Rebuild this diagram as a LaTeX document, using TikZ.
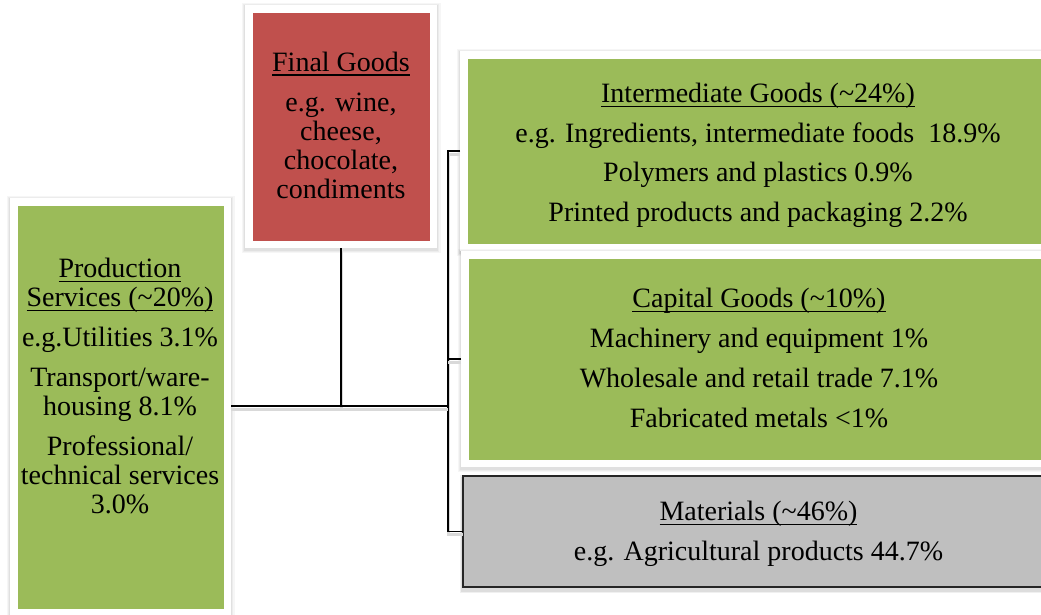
\documentclass[tikz,border=0pt]{standalone}
\usepackage{fontspec}
\setmainfont{Liberation Serif}
\newcommand{\myul}[1]{\setbox0\hbox{#1}\rlap{\rule[-4.5pt]{\wd0}{1.2pt}}\box0}
\definecolor{boxgreen}{HTML}{9BBB59}
\definecolor{boxred}{HTML}{C0504D}
\definecolor{boxgray}{HTML}{BFBFBF}
\tikzset{
  glow/.style={
    preaction={draw=black, draw opacity=0.035, line width=7pt, transform canvas={yshift=-1.5pt}},
    preaction={draw=black, draw opacity=0.04, line width=4.5pt, transform canvas={yshift=-1.5pt}},
    preaction={draw=black, draw opacity=0.05, line width=2.5pt, transform canvas={yshift=-1.5pt}}},
  framed/.style={rectangle, draw=none, fill=white, inner sep=0pt, outer sep=0pt, glow,
    path picture={\fill[#1] ([xshift=7.5pt,yshift=-7.5pt]path picture bounding box.north west)
      rectangle ([xshift=-7.5pt,yshift=7.5pt]path picture bounding box.south east);}},
  plainbox/.style={rectangle, draw=black!85, line width=2pt, fill=boxgray, inner sep=0pt, outer sep=0pt,
    preaction={draw=black, draw opacity=0.06, line width=7pt, transform canvas={yshift=-2.5pt}},
    preaction={draw=black, draw opacity=0.08, line width=4pt, transform canvas={yshift=-2.5pt}}},
  txt/.style={align=center, font=\fontsize{28pt}{29pt}\selectfont, inner sep=0pt},
  conn/.style={draw=black, line width=1.5pt,
    preaction={draw=black!15, line width=3pt, transform canvas={yshift=-3pt}}},
  mainconn/.style={conn, line width=2.6pt}
}
\begin{document}
\begin{tikzpicture}[x=1pt, y=-1pt]
\useasboundingbox (0,0) rectangle (1041,614);
\clip (0,0) rectangle (1041,614);

% boxes
\node[framed=boxred, minimum width=192pt, minimum height=243pt] (fg) at (341,126.5) {};
\node[framed=boxgreen, minimum width=221pt, minimum height=418pt] (ps) at (120.5,407) {};
\node[framed=boxgreen, minimum width=596pt, minimum height=200pt] (ig) at (758,151) {};
\node[framed=boxgreen, minimum width=595pt, minimum height=216pt] (cg) at (758.5,359) {};
\node[plainbox, minimum width=591pt, minimum height=111pt] (mat) at (758.5,531.5) {};

% junction
\coordinate (j) at (448,406);

% connectors
\draw[conn] (fg.south) -- (fg.south |- j);
\draw[conn] (ig.west) -- (ig.west -| j) -- (mat.west -| j) -- (mat.west);
\draw[conn] (cg.west) -- (cg.west -| j);
\draw[mainconn] (ps.east |- j) -- (j);

% texts
\node[txt] (fgt) at (341,125) {\myul{Final Goods}\\[11pt]e.g. wine,\\cheese,\\chocolate,\\condiments};
\node[txt] (pst) at (120,386) {\myul{Production}\\\myul{Services (\textasciitilde20\%)}\\[11pt]e.g.Utilities 3.1\%\\[11pt]Transport/ware-\\housing 8.1\%\\[11pt]Professional/\\technical services\\3.0\%};
\node[txt] (igt) at (758,155.5) {\myul{Intermediate Goods (\textasciitilde24\%)}\\[11pt]e.g. Ingredients, intermediate foods\ \ 18.9\%\\[10pt]Polymers and plastics 0.9\%\\[11pt]Printed products and packaging 2.2\%};
\node[txt] (cgt) at (759,358) {\myul{Capital Goods (\textasciitilde10\%)}\\[11pt]Machinery and equipment 1\%\\[11pt]Wholesale and retail trade 7.1\%\\[11pt]Fabricated metals \textless1\%};
\node[txt] (matt) at (758.5,533.5) {\myul{Materials (\textasciitilde46\%)}\\[11pt]e.g. Agricultural products 44.7\%};
\end{tikzpicture}
\end{document}
